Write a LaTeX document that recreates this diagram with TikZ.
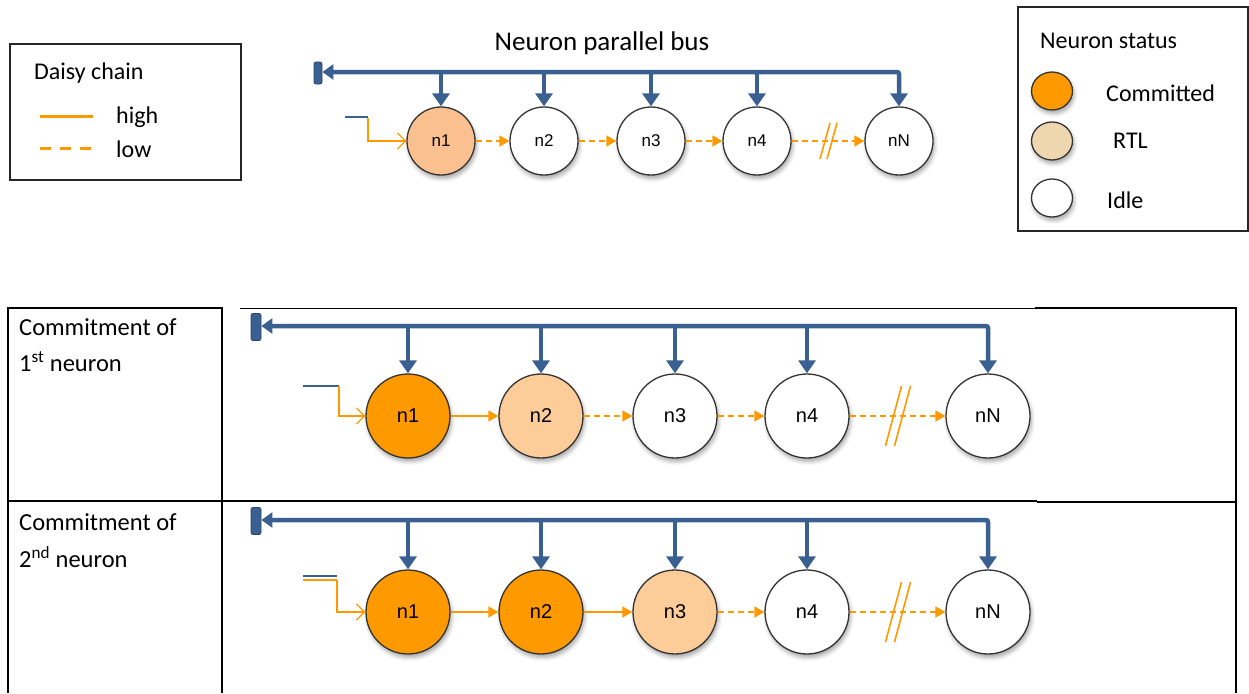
\documentclass[tikz,border=0pt]{standalone}
\usepackage{fontspec}
\setmainfont{Carlito}
\newfontfamily\nodefont{Liberation Sans}
\usetikzlibrary{arrows.meta,shadows.blur,calc,shapes.geometric}
\definecolor{busblue}{RGB}{58,96,146}
\definecolor{busdark}{RGB}{40,70,110}
\definecolor{chainor}{RGB}{255,153,0}
\definecolor{commit}{RGB}{255,153,0}
\definecolor{rtltop}{RGB}{250,192,143}
\definecolor{rtltab}{RGB}{252,204,153}
\definecolor{rtlleg}{RGB}{238,214,175}
\newcommand{\myfs}[1]{\fontsize{#1}{#1}\selectfont}
\begin{document}
\begin{tikzpicture}[x=1pt,y=-1pt,
  neu/.style={circle, draw=black!80, line width=1.3pt, inner sep=0pt,
    blur shadow={shadow xshift=1.5pt, shadow yshift=-3.5pt, shadow blur radius=4pt, shadow opacity=35}},
  neusm/.style={neu, minimum size=68pt, font=\nodefont\myfs{17}},
  neubig/.style={neu, minimum size=84pt, font=\nodefont\myfs{20}},
  idle/.style={fill=white},
  cmt/.style={fill=commit},
  rtla/.style={fill=rtltop},
  rtlb/.style={fill=rtltab},
  term/.style={rectangle, rounded corners=2pt, fill=busblue, draw=busdark, line width=0.8pt, inner sep=0pt},
  busline/.style={draw=busblue, line width=4.5pt},
  drop/.style={busline, -{Triangle[length=13pt,width=17pt]}},
  busarrow/.style={busline, rounded corners=2pt, {Triangle[length=11pt,width=15pt]}-{Triangle[length=13pt,width=17pt]}},
  hi/.style={draw=chainor, line width=1.6pt, -{Triangle[length=10pt,width=11pt]}},
  lo/.style={hi, dash pattern=on 6pt off 4pt},
  inarrow/.style={draw=chainor, line width=1.3pt, -{Straight Barb[length=8pt,width=16pt]}},
  overbar/.style={draw=busblue, line width=1.8pt},
  brk/.style={draw=chainor, line width=1.6pt},
  legbox/.style={draw=black!85, line width=1.3pt},
  txt/.style={anchor=west, inner sep=0pt, font=\myfs{24}},
  tabthick/.style={draw=black, line width=2.5pt},
  tabthin/.style={draw=black, line width=1.2pt}
]
\useasboundingbox (0,0) rectangle (1249,693);

% ---------- Daisy chain legend ----------
\draw[legbox] (10,44) rectangle (241,180);
\node[txt] (dctitle) at (34,73) {Daisy chain};
\coordinate (hiA) at (40,116); \coordinate (hiB) at (93,116);
\coordinate (loA) at (40,148); \coordinate (loB) at (93,148);
\draw[draw=chainor, line width=3pt] (hiA) -- (hiB);
\draw[draw=chainor, line width=3pt, dash pattern=on 11pt off 9pt] (loA) -- (loB);
\node[txt] (hitxt) at (116,117) {high};
\node[txt] (lotxt) at (116,149) {low};

% ---------- Neuron status legend ----------
\draw[legbox] (1018,7) -- (1248,7) -- (1248,231) -- (1018,231) -- cycle;
\node[txt] (nstitle) at (1040,41) {Neuron status};
\node[neu, ellipse, minimum width=41pt, minimum height=38pt, cmt] (lc) at (1052,91) {};
\node[neu, ellipse, minimum width=41pt, minimum height=38pt, fill=rtlleg] (lr) at (1052,141) {};
\node[neu, ellipse, minimum width=41pt, minimum height=38pt, idle] (li) at (1052,198) {};
\node[txt] (lctxt) at (1106,93) {Committed};
\node[txt] (lrtxt) at (1113,141) {RTL};
\node[txt] (litxt) at (1107,200) {Idle};

% ---------- Top diagram ----------
\node[anchor=center, inner sep=0pt, font=\myfs{27}] (bustitle) at (602,43) {Neuron parallel bus};
\node[neusm, rtla] (a1) at (441,141) {n1};
\node[neusm, idle] (a2) at (544,141) {n2};
\node[neusm, idle] (a3) at (651,141) {n3};
\node[neusm, idle] (a4) at (757,141) {n4};
\node[neusm, idle] (a5) at (899,141) {nN};
\node[term, minimum width=8pt, minimum height=22pt] (at) at (318,73) {};
\coordinate (ac) at (899,72);
\draw[busarrow] (at.east |- ac) -- (ac) -- (a5.north);
\foreach \n in {a1,a2,a3,a4} \draw[drop] (\n.north |- ac) -- (\n.north);
\draw[lo] (a1) -- (a2);
\draw[lo] (a2) -- (a3);
\draw[lo] (a3) -- (a4);
\draw[lo] (a4) -- (a5);
\coordinate (ak) at ($(a4.east)!0.5!(a5.west)$);
\draw[brk] ([xshift=-8pt,yshift=-18pt]ak) -- ([xshift=2pt,yshift=18pt]ak);
\draw[brk] ([xshift=-1pt,yshift=-18pt]ak) -- ([xshift=9pt,yshift=18pt]ak);
\coordinate (ain0) at (345,118); \coordinate (ain1) at (368,118);
\draw[overbar] ([yshift=1pt]ain0) -- ([yshift=1pt]ain1);
\draw[inarrow] (ain1) |- (a1.west);

% ---------- Table ----------
\draw[tabthick] (8,308) -- (222,308);
\draw[tabthin] (240,308.5) -- (1035,308.5);
\draw[tabthick] (1035,308) -- (1237,308);
\draw[tabthick] (8,307) -- (8,693);
\draw[tabthick] (222,307) -- (222,693);
\draw[tabthick] (1236,307) -- (1236,693);
\draw[tabthick] (8,501) -- (222,501);
\draw[tabthin] (222,501) -- (1037,501);
\draw[tabthick] (1037,502) -- (1237,502);

\node[txt, font=\myfs{24.5}] (r1a) at (19,327) {Commitment of};
\node[txt, font=\myfs{24.5}] (r1b) at (19,362) {1\textsuperscript{st} neuron};
\node[txt, font=\myfs{24.5}] (r2a) at (19,522) {Commitment of};
\node[txt, font=\myfs{24.5}] (r2b) at (19,557) {2\textsuperscript{nd} neuron};

% Row 1
\node[neubig, cmt] (b1) at (408,416) {n1};
\node[neubig, rtlb] (b2) at (541,416) {n2};
\node[neubig, idle] (b3) at (675,416) {n3};
\node[neubig, idle] (b4) at (807,416) {n4};
\node[neubig, idle] (b5) at (988,416) {nN};
\node[term, minimum width=10pt, minimum height=27pt] (bt) at (256,327) {};
\coordinate (bc) at (988,326);
\draw[busarrow] (bt.east |- bc) -- (bc) -- (b5.north);
\foreach \n in {b1,b2,b3,b4} \draw[drop] (\n.north |- bc) -- (\n.north);
\draw[hi] (b1) -- (b2);
\draw[lo] (b2) -- (b3);
\draw[lo] (b3) -- (b4);
\draw[lo] (b4) -- (b5);
\coordinate (bk) at ($(b4.east)!0.5!(b5.west)$);
\draw[brk] ([xshift=-12pt,yshift=-30pt]bk) -- ([xshift=4pt,yshift=30pt]bk);
\draw[brk] ([xshift=-3pt,yshift=-30pt]bk) -- ([xshift=13pt,yshift=30pt]bk);
\coordinate (bin0) at (303,386); \coordinate (bin1) at (339,386);
\draw[overbar] (bin0) -- (bin1);
\draw[inarrow] (bin1) |- (b1.west);

% Row 2
\node[neubig, cmt] (c1) at (408,612) {n1};
\node[neubig, cmt] (c2) at (541,612) {n2};
\node[neubig, rtlb] (c3) at (675,612) {n3};
\node[neubig, idle] (c4) at (807,612) {n4};
\node[neubig, idle] (c5) at (988,612) {nN};
\node[term, minimum width=10pt, minimum height=27pt] (ct) at (256,521) {};
\coordinate (cc) at (988,520);
\draw[busarrow] (ct.east |- cc) -- (cc) -- (c5.north);
\foreach \n in {c1,c2,c3,c4} \draw[drop] (\n.north |- cc) -- (\n.north);
\draw[hi] (c1) -- (c2);
\draw[hi] (c2) -- (c3);
\draw[lo] (c3) -- (c4);
\draw[lo] (c4) -- (c5);
\coordinate (ck) at ($(c4.east)!0.5!(c5.west)$);
\draw[brk] ([xshift=-12pt,yshift=-30pt]ck) -- ([xshift=4pt,yshift=30pt]ck);
\draw[brk] ([xshift=-3pt,yshift=-30pt]ck) -- ([xshift=13pt,yshift=30pt]ck);
\coordinate (cin0) at (303,580); \coordinate (cin1) at (337,580);
\draw[overbar] ([yshift=4pt]cin0) -- ([yshift=4pt]cin1);
\draw[draw=chainor, line width=1.3pt] (cin0) -- (cin1);
\draw[inarrow] (cin1) |- (c1.west);
\end{tikzpicture}
\end{document}
